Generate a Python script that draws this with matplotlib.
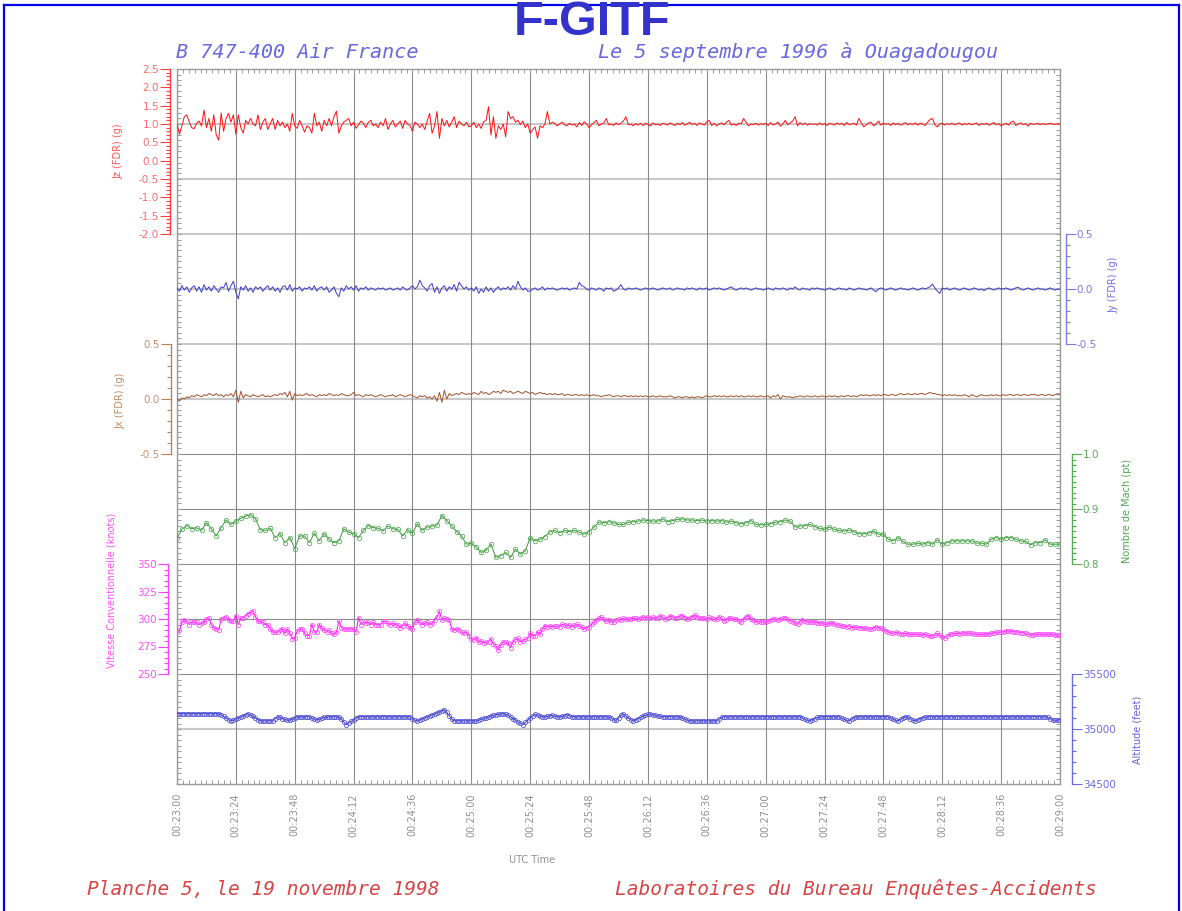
import numpy as np
import matplotlib
matplotlib.use('Agg')
import matplotlib.pyplot as plt
from matplotlib.ticker import MultipleLocator, FuncFormatter
from matplotlib.lines import Line2D

plt.rcParams['axes.unicode_minus'] = False
plt.rcParams['font.family'] = ['DejaVu Sans']

# ---------------- data ----------------
time_labels = ['00:23:00', '00:23:24', '00:23:48', '00:24:12', '00:24:36', '00:25:00',
               '00:25:24', '00:25:48', '00:26:12', '00:26:36', '00:27:00', '00:27:24',
               '00:27:48', '00:28:12', '00:28:36', '00:29:00']
tick_seconds = [0, 24, 48, 72, 96, 120, 144, 168, 192, 216, 240, 264, 288, 312, 336, 360]

# 1-second samples, t = 0 .. 360 s from 00:23:00
jz_g = [
    1.00, 0.72, 0.95, 1.20, 1.25, 1.05, 0.90, 0.87, 1.02, 1.08,
    0.95, 1.38, 0.90, 1.15, 0.80, 1.25, 0.70, 0.56, 1.30, 0.80,
    1.15, 1.29, 1.05, 1.25, 0.72, 1.25, 0.90, 0.75, 1.10, 1.00,
    1.15, 1.00, 0.95, 1.25, 0.85, 1.05, 1.15, 0.85, 1.00, 1.15,
    0.85, 1.10, 0.95, 1.05, 0.90, 1.00, 0.80, 1.29, 0.95, 0.88,
    1.10, 0.95, 0.78, 0.95, 0.90, 0.75, 1.29, 0.95, 1.05, 0.80,
    1.10, 0.95, 1.15, 0.95, 1.20, 1.35, 0.75, 0.95, 1.05, 1.10,
    1.15, 0.95, 1.05, 0.88, 0.98, 1.08, 1.02, 0.90, 1.05, 1.10,
    0.95, 1.00, 0.90, 1.05, 0.95, 1.15, 0.85, 1.00, 1.10, 0.92,
    1.00, 1.08, 0.88, 1.10, 1.00, 0.95, 0.80, 1.05, 1.00, 0.90,
    1.00, 0.85, 1.08, 1.29, 0.75, 0.95, 1.34, 0.61, 1.15, 0.95,
    1.10, 0.92, 1.05, 1.20, 0.90, 1.08, 1.00, 0.95, 1.05, 0.92,
    0.95, 1.05, 0.90, 1.00, 0.88, 1.06, 1.10, 1.47, 0.70, 1.20,
    0.61, 0.95, 0.85, 1.00, 0.65, 1.34, 1.15, 1.20, 1.05, 1.10,
    0.98, 1.08, 0.90, 1.00, 0.75, 0.85, 0.92, 0.61, 0.95, 0.90,
    1.00, 1.34, 1.00, 1.05, 1.02, 0.95, 1.00, 1.05, 0.98, 0.95,
    1.02, 0.97, 1.00, 0.92, 1.04, 0.96, 1.06, 1.00, 0.90, 0.98,
    1.04, 1.10, 0.95, 1.00, 1.02, 1.15, 0.98, 1.00, 0.96, 1.03,
    0.98, 1.02, 1.08, 1.20, 0.98, 1.00, 0.95, 1.01, 0.97, 1.02,
    0.96, 1.02, 0.99, 0.95, 1.03, 0.98, 1.00, 0.96, 1.02, 1.00,
    0.97, 1.03, 0.99, 0.96, 1.02, 0.98, 1.04, 0.97, 1.00, 1.05,
    0.98, 1.02, 0.96, 1.03, 1.00, 0.97, 1.06, 1.10, 0.96, 1.02,
    0.95, 1.00, 1.03, 0.98, 1.05, 1.10, 0.97, 1.00, 0.96, 1.02,
    1.00, 1.15, 1.05, 0.95, 1.00, 0.98, 1.02, 0.97, 1.01, 0.99,
    1.02, 0.96, 1.04, 0.97, 1.00, 1.05, 0.94, 1.00, 1.10, 0.98,
    1.03, 1.08, 1.20, 0.95, 1.04, 0.98, 1.02, 0.97, 1.01, 0.99,
    1.00, 0.97, 1.03, 0.98, 1.01, 0.96, 1.02, 1.00, 0.97, 1.03,
    0.99, 1.02, 0.96, 1.04, 0.98, 1.00, 1.02, 0.97, 1.15, 1.03,
    0.92, 0.98, 1.03, 1.05, 0.95, 1.00, 1.08, 0.97, 1.02, 0.99,
    1.01, 0.96, 1.03, 0.98, 1.02, 0.97, 1.00, 1.04, 0.98, 1.01,
    0.99, 1.03, 0.97, 1.02, 1.00, 0.96, 1.05, 1.12, 1.15, 0.98,
    0.92, 1.00, 1.02, 0.97, 1.01, 0.99, 1.02, 0.98, 1.00, 1.03,
    0.97, 1.01, 0.99, 1.02, 0.98, 1.00, 1.03, 0.96, 1.01, 0.99,
    1.02, 0.97, 1.00, 1.04, 0.98, 1.01, 0.95, 0.99, 1.02, 0.97,
    1.05, 1.08, 0.96, 1.00, 1.03, 0.98, 1.01, 0.94, 1.02, 0.99,
    1.00, 1.02, 0.98, 1.01, 0.99, 1.00, 1.02, 1.00, 0.99, 1.01,
    1.00]

jy_g = [
    0.01, -0.02, 0.03, -0.01, 0.02, -0.03, 0.01, 0.03, -0.02, 0.02,
    -0.03, 0.04, -0.01, 0.02, -0.02, 0.03, 0.00, -0.03, 0.02, 0.01,
    0.06, -0.02, 0.03, 0.07, -0.03, -0.09, 0.02, -0.01, 0.03, -0.02,
    0.01, -0.03, 0.02, 0.00, 0.02, -0.02, 0.01, 0.03, -0.01, 0.02,
    -0.02, 0.01, -0.03, 0.02, 0.03, -0.01, 0.04, -0.02, 0.01, 0.00,
    0.02, -0.02, 0.01, 0.00, 0.02, -0.01, 0.03, -0.02, 0.01, 0.02,
    -0.01, 0.02, -0.03, -0.01, 0.02, -0.04, -0.07, 0.01, -0.02, 0.03,
    0.00, 0.02, -0.01, 0.03, -0.02, 0.01, 0.00, 0.02, -0.01, 0.01,
    0.00, -0.01, 0.01, 0.00, 0.01, -0.01, 0.00, 0.01, -0.01, 0.00,
    0.01, -0.01, 0.02, 0.00, -0.01, 0.01, 0.03, 0.00, 0.02, 0.08,
    0.03, 0.01, -0.02, 0.03, 0.05, -0.03, 0.02, -0.04, 0.01, 0.03,
    -0.02, 0.02, 0.00, 0.04, -0.02, 0.06, 0.03, 0.00, 0.02, -0.01,
    0.01, -0.02, 0.02, -0.04, 0.00, -0.03, 0.02, -0.02, 0.01, -0.03,
    0.00, 0.02, -0.01, 0.01, 0.00, 0.02, -0.01, 0.03, 0.00, 0.07,
    0.02, -0.01, 0.01, -0.02, -0.02, 0.00, 0.01, -0.01, 0.00, 0.02,
    -0.01, 0.01, 0.00, 0.01, 0.00, -0.01, 0.00, 0.01, 0.00, 0.01,
    -0.01, 0.00, 0.01, 0.00, 0.06, 0.03, 0.02, 0.00, -0.01, 0.01,
    0.00, -0.01, 0.01, 0.00, -0.02, 0.01, 0.00, 0.01, -0.02, -0.01,
    0.01, 0.04, 0.00, -0.01, 0.01, 0.00, 0.00, 0.01, 0.00, -0.01,
    0.00, 0.01, 0.00, 0.00, 0.01, 0.00, -0.01, 0.00, 0.01, 0.00,
    0.00, 0.01, -0.01, 0.00, 0.01, 0.00, 0.00, -0.01, 0.01, 0.00,
    0.01, 0.00, -0.01, 0.01, 0.00, 0.00, 0.01, -0.01, 0.00, 0.01,
    0.00, 0.01, 0.00, -0.01, 0.00, 0.01, 0.02, 0.00, -0.01, 0.00,
    0.01, 0.00, 0.01, 0.00, -0.01, 0.00, 0.01, 0.00, 0.00, -0.01,
    0.00, 0.01, 0.00, -0.01, 0.01, 0.00, 0.00, 0.01, 0.00, -0.01,
    0.01, 0.00, 0.02, 0.00, -0.01, 0.01, 0.00, 0.00, -0.01, 0.01,
    0.00, 0.01, 0.00, 0.00, -0.01, 0.00, 0.01, 0.00, -0.01, 0.00,
    0.01, 0.00, 0.00, -0.01, 0.01, 0.00, -0.01, 0.00, 0.01, 0.00,
    0.00, -0.01, 0.00, 0.01, -0.01, -0.025, 0.00, 0.01, 0.00, -0.01,
    0.00, 0.01, 0.00, -0.01, 0.00, 0.01, 0.00, 0.00, -0.01, 0.00,
    0.01, 0.00, -0.01, 0.00, 0.01, 0.00, 0.01, 0.02, 0.045, 0.01,
    -0.02, -0.04, 0.01, 0.00, 0.01, -0.01, 0.00, 0.01, 0.00, -0.01,
    0.00, 0.01, 0.00, -0.01, 0.00, 0.01, 0.00, -0.01, 0.00, -0.015,
    0.00, 0.01, 0.00, -0.01, 0.00, 0.01, 0.00, 0.00, 0.01, 0.00,
    -0.01, 0.00, 0.01, 0.015, 0.00, -0.01, 0.00, 0.01, 0.00, -0.01,
    0.00, 0.01, 0.00, 0.00, -0.01, 0.00, 0.01, 0.00, -0.01, 0.00,
    0.00]

jx_g = [
    0.00, -0.02, 0.01, 0.00, 0.02, 0.01, 0.03, 0.02, 0.04, 0.03,
    0.02, 0.04, 0.03, 0.05, 0.04, 0.03, 0.05, 0.03, 0.04, 0.02,
    0.04, 0.03, 0.05, 0.02, 0.08, -0.03, 0.07, 0.01, 0.04, 0.03,
    0.02, 0.04, 0.03, 0.02, 0.03, 0.04, 0.02, 0.03, 0.02, 0.03,
    0.04, 0.03, 0.05, 0.04, 0.06, 0.02, 0.07, -0.01, 0.05, 0.03,
    0.04, 0.03, 0.04, 0.05, 0.03, 0.04, 0.03, 0.02, 0.04, 0.03,
    0.04, 0.03, 0.05, 0.04, 0.03, 0.04, 0.03, 0.05, 0.04, 0.03,
    0.03, 0.04, 0.06, 0.03, 0.04, 0.03, 0.02, 0.04, 0.03, 0.04,
    0.03, 0.02, 0.03, 0.04, 0.03, 0.02, 0.03, 0.03, 0.04, 0.02,
    0.03, 0.04, 0.03, 0.02, 0.03, 0.04, 0.03, 0.02, 0.01, 0.03,
    0.02, 0.03, 0.01, 0.02, 0.00, 0.03, -0.02, 0.06, -0.03, 0.08,
    0.00, 0.05, 0.03, 0.04, 0.05, 0.04, 0.06, 0.05, 0.04, 0.05,
    0.04, 0.06, 0.05, 0.04, 0.07, 0.05, 0.06, 0.04, 0.05, 0.07,
    0.06, 0.07, 0.05, 0.08, 0.07, 0.06, 0.07, 0.05, 0.06, 0.07,
    0.06, 0.05, 0.07, 0.06, 0.05, 0.06, 0.04, 0.05, 0.06, 0.05,
    0.05, 0.04, 0.05, 0.04, 0.05, 0.04, 0.04, 0.05, 0.03, 0.04,
    0.04, 0.03, 0.04, 0.04, 0.03, 0.04, 0.03, 0.04, 0.03, 0.03,
    0.04, 0.03, 0.03, 0.02, 0.03, 0.03, 0.04, 0.03, 0.02, 0.03,
    0.03, 0.02, 0.03, 0.03, 0.02, 0.03, 0.02, 0.03, 0.02, 0.03,
    0.02, 0.03, 0.02, 0.02, 0.03, 0.02, 0.02, 0.03, 0.02, 0.02,
    0.02, 0.03, 0.02, 0.01, 0.02, 0.02, 0.01, 0.02, 0.02, 0.01,
    0.02, 0.01, 0.02, 0.02, 0.01, 0.02, 0.03, 0.02, 0.02, 0.03,
    0.02, 0.03, 0.02, 0.03, 0.02, 0.02, 0.03, 0.02, 0.03, 0.02,
    0.03, 0.02, 0.02, 0.03, 0.02, 0.03, 0.02, 0.02, 0.03, 0.02,
    0.02, 0.03, 0.01, 0.03, 0.02, 0.04, 0.00, 0.03, 0.02, 0.02,
    0.02, 0.01, 0.02, 0.02, 0.03, 0.02, 0.02, 0.03, 0.02, 0.02,
    0.03, 0.02, 0.02, 0.03, 0.02, 0.02, 0.03, 0.02, 0.03, 0.02,
    0.02, 0.03, 0.02, 0.03, 0.03, 0.02, 0.03, 0.02, 0.03, 0.04,
    0.03, 0.04, 0.03, 0.03, 0.04, 0.03, 0.04, 0.03, 0.04, 0.04,
    0.03, 0.04, 0.04, 0.03, 0.04, 0.05, 0.04, 0.04, 0.05, 0.04,
    0.04, 0.05, 0.04, 0.05, 0.05, 0.04, 0.05, 0.06, 0.05, 0.05,
    0.04, 0.04, 0.03, 0.04, 0.03, 0.04, 0.03, 0.04, 0.03, 0.03,
    0.03, 0.04, 0.03, 0.02, 0.04, 0.03, 0.02, 0.03, 0.04, 0.03,
    0.03, 0.03, 0.04, 0.03, 0.04, 0.03, 0.03, 0.04, 0.03, 0.04,
    0.04, 0.03, 0.04, 0.04, 0.03, 0.04, 0.04, 0.03, 0.04, 0.04,
    0.04, 0.03, 0.04, 0.04, 0.03, 0.04, 0.04, 0.03, 0.04, 0.04,
    0.04]

# 2-second samples, t = 0 .. 360 s
mach = [
    0.847, 0.863, 0.870, 0.864, 0.866, 0.861, 0.875, 0.864, 0.851, 0.866,
    0.880, 0.872, 0.878, 0.883, 0.887, 0.890, 0.882, 0.862, 0.861, 0.865,
    0.848, 0.855, 0.839, 0.848, 0.828, 0.851, 0.851, 0.839, 0.856, 0.842,
    0.855, 0.845, 0.839, 0.842, 0.864, 0.858, 0.855, 0.848, 0.861, 0.870,
    0.866, 0.865, 0.860, 0.869, 0.864, 0.863, 0.851, 0.862, 0.856, 0.873,
    0.861, 0.867, 0.869, 0.871, 0.888, 0.879, 0.869, 0.859, 0.851, 0.836,
    0.838, 0.831,
    0.821, 0.825, 0.836, 0.812, 0.815, 0.821, 0.812, 0.827, 0.818, 0.824,
    0.848, 0.842, 0.845, 0.850, 0.858, 0.861, 0.857, 0.861, 0.859, 0.861,
    0.858, 0.854, 0.859, 0.867, 0.876, 0.875, 0.877, 0.875, 0.872, 0.872,
    0.876, 0.877, 0.878, 0.880, 0.879, 0.878, 0.878, 0.882, 0.877, 0.879,
    0.881, 0.882, 0.880, 0.880, 0.879, 0.880, 0.878, 0.879, 0.878, 0.879,
    0.876, 0.878, 0.875, 0.873, 0.875, 0.879, 0.872, 0.871, 0.872,
    0.873, 0.876, 0.877, 0.880, 0.878, 0.867, 0.869, 0.870, 0.872, 0.868,
    0.865, 0.863, 0.867, 0.863, 0.861, 0.860, 0.862, 0.859, 0.855, 0.855,
    0.856, 0.860, 0.854, 0.854, 0.845, 0.842, 0.848, 0.841, 0.836, 0.836,
    0.838, 0.836, 0.839, 0.836, 0.844, 0.836, 0.839, 0.842, 0.842, 0.842,
    0.842, 0.842, 0.838, 0.838, 0.836, 0.845, 0.848, 0.845, 0.848, 0.848,
    0.845, 0.842, 0.841, 0.835, 0.839, 0.839, 0.844, 0.836, 0.836, 0.836]

# 1-second samples
speed_kt = [
    288, 290, 297, 299, 298, 295, 297, 297, 297, 295,
    296, 297, 300, 301, 295, 292, 291, 290, 300, 301,
    302, 299, 298, 298, 303, 295, 301, 301, 303, 305,
    306, 307, 302, 298, 298, 297, 295, 295, 291, 288,
    288, 288, 290, 291, 287, 291, 287, 282, 283, 289,
    291, 291, 287, 285, 285, 295, 288, 288, 295, 292,
    290, 288, 290, 287, 286, 288, 298, 292, 291, 291,
    291, 291, 291, 288, 301, 295, 297, 296, 297, 295,
    297, 295, 295, 295, 298, 298, 296, 295, 296, 295,
    295, 292, 294, 296, 294, 292, 291, 297, 299, 297,
    295, 296, 297, 295, 296, 299, 302, 307, 299, 301,
    300, 299, 291, 290, 291, 290, 288, 287, 288, 285,
    282, 281,
    283.0, 278.8, 280.0, 278.5, 278.8, 279.4, 281.8, 277.0, 275.7, 271.8,
    276.3, 279.4, 278.8, 277.9, 273.9, 279.4, 281.8, 282.4, 279.4, 280.3,
    281.5, 282.4, 287.0, 284.5, 284.8, 288.5, 286.0, 290.9, 293.9, 293.0,
    293.9, 293.0, 293.6, 293.6, 293.0, 295.1, 294.5, 293.6, 294.5, 293.0,
    294.5, 295.1, 293.6, 293.0, 290.9, 292.1, 293.0, 295.1, 297.0, 299.1,
    300.6, 301.5, 300.0, 298.2, 299.1, 297.6, 297.6, 299.1, 299.7, 299.1,
    300.6, 299.7, 299.7, 300.0, 300.6, 300.6, 300.0, 300.6, 301.5, 301.2,
    301.5, 300.6, 301.5, 300.6, 301.2, 303.0, 301.5, 299.7, 301.2, 303.0,
    301.5, 300.6, 301.2, 302.7, 303.0, 301.2, 300.0, 300.6, 302.1, 303.6,
    302.1, 300.6, 301.2, 300.6, 300.0, 301.5, 300.6, 299.7, 300.0, 302.1,
    300.6, 298.5, 299.1, 301.2, 300.6, 299.7, 300.0, 298.2, 297.0, 299.7,
    302.1, 303.0, 299.7, 299.1, 297.6, 298.2, 297.6, 297.0, 297.0, 298.2,
    299.1, 299.7, 299.7, 299.1, 300.0, 300.6, 301.2, 300.0, 298.5, 297.6,
    296.0, 295.1, 297.6, 299.1, 298.5, 297.6, 297.6, 297.0, 297.6, 296.6,
    296.0, 296.6, 295.4, 295.1, 296.0, 296.6, 295.4, 294.5, 294.5, 293.9,
    293.6, 293.0, 293.9, 292.1, 292.7, 292.4, 292.1, 292.1, 291.5, 291.5,
    290.9, 290.9, 292.1, 292.4, 292.1, 291.5, 290.9, 289.4, 287.9, 287.6,
    287.0, 287.9, 287.6, 286.3, 286.3, 287.0, 286.6, 286.0, 286.3, 286.0,
    286.0, 286.0, 285.4, 286.0, 285.4, 284.5, 284.8, 285.4, 287.0, 285.4,
    283.9, 283.0, 284.5, 286.0, 286.3, 287.0, 287.0, 286.6, 287.0, 287.6,
    287.3, 287.0, 287.0, 286.3, 286.0, 286.0, 286.0, 286.0, 286.3, 286.6,
    287.0, 287.6, 287.9, 287.9, 288.2, 288.5, 289.1, 289.1, 288.8, 288.5,
    288.5, 288.2, 287.6, 287.6, 287.0, 286.3, 285.4, 285.4, 286.0, 286.0,
    286.3, 286.0, 286.0, 286.3, 286.3, 286.0, 285.4, 285.4, 285.7]

altitude_ft = [
    35140, 35140, 35140, 35140, 35140, 35140, 35140, 35140, 35140, 35140,
    35140, 35140, 35140, 35140, 35140, 35140, 35140, 35140, 35130, 35115,
    35100, 35085, 35075, 35080, 35090, 35100, 35110, 35120, 35130, 35138,
    35130, 35115, 35100, 35085, 35075, 35075, 35075, 35075, 35075, 35075,
    35095, 35112, 35105, 35095, 35088, 35080, 35078, 35090, 35102, 35112,
    35112, 35112, 35112, 35112, 35112, 35100, 35090, 35082, 35090, 35098,
    35105, 35110, 35112, 35112, 35112, 35112, 35112, 35090, 35065, 35040,
    35055, 35070, 35085, 35100, 35112, 35112, 35112, 35112, 35112, 35112,
    35112, 35112, 35112, 35112, 35112, 35112, 35112, 35112, 35112, 35112,
    35112, 35112, 35112, 35112, 35112, 35112, 35095, 35080, 35075, 35083,
    35092, 35101, 35110, 35119, 35128, 35137, 35146, 35155, 35165, 35175,
    35150, 35120, 35090, 35075, 35075, 35075, 35075, 35075, 35075, 35075,
    35075, 35075, 35075, 35082, 35089, 35096, 35103, 35110, 35117, 35124,
    35130, 35135, 35139, 35139, 35135, 35125, 35110, 35095, 35080, 35065,
    35050, 35039, 35060, 35080, 35100, 35120, 35136, 35125, 35118, 35112,
    35110, 35115, 35120, 35125, 35118, 35112, 35110, 35115, 35122, 35128,
    35120, 35112, 35112, 35112, 35112, 35112, 35112, 35112, 35112, 35112,
    35112, 35112, 35112, 35112, 35112, 35112, 35112, 35100, 35085, 35078,
    35100, 35125, 35136, 35120, 35100, 35085, 35075, 35085, 35095, 35105,
    35115, 35125, 35132, 35136, 35130, 35125, 35120, 35115, 35112, 35112,
    35112, 35112, 35112, 35112, 35112, 35112, 35100, 35090, 35080, 35075,
    35075, 35075, 35075, 35075, 35075, 35075, 35075, 35075, 35075, 35075,
    35075, 35090, 35105, 35112, 35112, 35112, 35112, 35112, 35112, 35112,
    35112, 35112, 35112, 35112, 35112, 35112, 35112, 35112, 35112, 35112,
    35112, 35112, 35112, 35112, 35112, 35112, 35112, 35112, 35112, 35112,
    35112, 35112, 35112, 35112, 35112, 35100, 35088, 35078, 35075, 35085,
    35095, 35105, 35112, 35112, 35112, 35112, 35112, 35112, 35112, 35112,
    35112, 35100, 35088, 35078, 35075, 35090, 35102, 35112, 35112, 35112,
    35112, 35112, 35112, 35112, 35112, 35112, 35112, 35112, 35112, 35112,
    35112, 35100, 35088, 35078, 35075, 35088, 35100, 35110, 35112, 35095,
    35080, 35075, 35085, 35095, 35102, 35108, 35112, 35112, 35112, 35112,
    35112, 35112, 35112, 35112, 35112, 35112, 35112, 35112, 35112, 35112,
    35112, 35112, 35112, 35112, 35112, 35112, 35112, 35112, 35112, 35112,
    35112, 35112, 35112, 35112, 35112, 35112, 35112, 35112, 35112, 35112,
    35112, 35112, 35112, 35112, 35112, 35112, 35112, 35112, 35112, 35112,
    35112, 35112, 35112, 35112, 35112,
    35105, 35095, 35085, 35078, 35080, 35085]

_lens = [len(jz_g), len(jy_g), len(jx_g), len(mach), len(speed_kt), len(altitude_ft)]
assert _lens == [361, 361, 361, 181, 361, 361], _lens

t_1s = np.arange(len(jz_g))
t_2s = np.arange(len(mach)) * 2

# ---------------- layout helpers ----------------
W_PX, H_PX = 1182, 911
fig = plt.figure(figsize=(W_PX / 100, H_PX / 100), dpi=100)
fig.patch.set_facecolor('white')


def fx(x):
    return x / W_PX


def fy(y):
    return 1 - y / H_PX


L, R, T, B = 177, 1060, 69, 784
PX = 0.72  # points per pixel

# main frame axes
ax = fig.add_axes([fx(L), fy(B), fx(R) - fx(L), fy(T) - fy(B)])
ax.set_xlim(0, 360)
ax.set_ylim(0, 13)
ax.set_facecolor('white')
for s in ax.spines.values():
    s.set_color('#9a9a9a')
    s.set_linewidth(1.0)
ax.set_xticks(tick_seconds)
ax.set_xticklabels(time_labels, rotation=90, fontsize=7, color='#909090', va='top')
ax.xaxis.set_minor_locator(MultipleLocator(2.4))
ax.set_yticks(range(14))
ax.set_yticklabels([])
ax.yaxis.set_minor_locator(MultipleLocator(0.1))
ax.tick_params(axis='both', which='both', direction='in', top=True, right=True,
               color='#9a9a9a', width=0.7)
ax.tick_params(axis='both', which='minor', length=3)
ax.tick_params(axis='y', which='major', length=3)
ax.tick_params(axis='x', which='major', length=3, pad=6.5)
ax.grid(axis='x', which='major', color='#8c8c8c', linewidth=0.8)
for k in [1, 7, 8, 9, 10, 11, 12]:
    ax.axhline(k, color='#c8c8c8', linewidth=1.5, zorder=0.5)
for k in [2, 3, 4, 5, 6]:
    ax.axhline(k, color='#8c8c8c', linewidth=0.8, zorder=0.5)


def make_sub(top, bot, side, out_px, ylim, major, minor, spine_col, lab_col, fmt):
    a = fig.add_axes([fx(L), fy(bot), fx(R) - fx(L), fy(top) - fy(bot)])
    a.set_xlim(0, 360)
    a.set_ylim(*ylim)
    a.patch.set_visible(False)
    for s in a.spines.values():
        s.set_visible(False)
    sp = a.spines[side]
    sp.set_visible(True)
    sp.set_position(('outward', out_px * PX))
    sp.set_color(spine_col)
    sp.set_linewidth(1.0)
    a.xaxis.set_visible(False)
    if side == 'right':
        a.yaxis.tick_right()
    else:
        a.yaxis.tick_left()
    a.yaxis.set_major_locator(MultipleLocator(major))
    a.yaxis.set_minor_locator(MultipleLocator(minor))
    a.yaxis.set_major_formatter(FuncFormatter(lambda v, p: fmt % (0 if abs(v) < 1e-9 else v)))
    a.tick_params(axis='y', which='major', direction='out', length=7, width=0.8,
                  color=spine_col, labelcolor=lab_col, labelsize=7.5, pad=0.8)
    a.tick_params(axis='y', which='minor', direction='out', length=3, width=0.8,
                  color=spine_col)
    return a


# Jz
a_jz = make_sub(69, 234, 'left', 7, (-2.0, 2.5), 0.5, 0.1, '#ff3c3c', '#ff6a6a', '%.1f')
a_jz.plot(t_1s, jz_g, color='#ff1010', linewidth=0.7)
# Jy
a_jy = make_sub(234, 344, 'right', 6, (-0.5, 0.5), 0.5, 0.1, '#7a7ae8', '#7a7ae8', '%.1f')
a_jy.plot(t_1s, jy_g, color='#3c3ccc', linewidth=0.7)
# Jx
a_jx = make_sub(344, 454, 'left', 6.5, (-0.5, 0.5), 0.5, 0.1, '#c08050', '#c89070', '%.1f')
a_jx.plot(t_1s, jx_g, color='#a0522d', linewidth=0.7)
# Mach
a_m = make_sub(454, 564, 'right', 12, (0.8, 1.0), 0.1, 0.01, '#5aaa5a', '#5aaa5a', '%.1f')
a_m.plot(t_2s, mach, color='#3c963c', linewidth=0.7, marker='o', markersize=3.2,
         markerfacecolor='none', markeredgecolor='#5cae5c', markeredgewidth=0.6)
# Speed
a_s = make_sub(564, 674, 'left', 9, (250, 350), 25, 5, '#ff40ff', '#ff50ff', '%d')
a_s.plot(t_1s, speed_kt, color='#ff00ff', linewidth=0.7, marker='o', markersize=3.0,
         markerfacecolor='none', markeredgecolor='#ff55ff', markeredgewidth=0.6)
# Altitude
a_a = make_sub(674, 784, 'right', 12, (34500, 35500), 500, 100, '#6a6ae0', '#6a6ae0', '%d')
a_a.plot(t_1s, altitude_ft, color='#3030c0', linewidth=0.7, marker='o', markersize=3.0,
         markerfacecolor='none', markeredgecolor='#5a5ad8', markeredgewidth=0.6)

# axis labels
lab_kw = dict(rotation=90, fontsize=7, ha='center', va='center')
fig.text(fx(118), fy(151), 'Jz (FDR) (g)', color='#ff5a5a', **lab_kw)
fig.text(fx(1113), fy(285), 'Jy (FDR) (g)', color='#7070e0', **lab_kw)
fig.text(fx(120), fy(401), 'Jx (FDR) (g)', color='#c08a60', **lab_kw)
fig.text(fx(1127), fy(511), 'Nombre de Mach (pt)', color='#50a850', **lab_kw)
fig.text(fx(112), fy(590), 'Vitesse Conventionnelle (knots)', color='#ff50ff', **lab_kw)
fig.text(fx(1138), fy(730), 'Altitude (feet)', color='#6060dd', **lab_kw)
fig.text(fx(532), fy(860), 'UTC Time', color='#909090', fontsize=7, ha='center', va='center')

# titles
fig.text(fx(592), fy(35), 'F-GITF', fontsize=35, fontweight='bold', color='#3333cc',
         family='Liberation Sans', ha='center', va='baseline')
mono = dict(family='DejaVu Sans Mono', style='oblique', fontsize=14.5, va='baseline')
fig.text(fx(176), fy(57.5), 'B 747-400 Air France', color='#6868e0', ha='left', **mono)
fig.text(fx(998), fy(57.5), 'Le 5 septembre 1996 à Ouagadougou', color='#6868e0', ha='right', **mono)
foot = dict(family='DejaVu Sans Mono', style='oblique', fontsize=14, va='baseline', color='#d84444')
fig.text(fx(87), fy(895), 'Planche 5, le 19 novembre 1998', ha='left', **foot)
fig.text(fx(1097), fy(895), 'Laboratoires du Bureau Enquêtes-Accidents', ha='right', **foot)

# blue page border (left, top, right)
for xs, ys in [((3.5, 3.5), (4.5, 915)), ((3.5, 1179), (4.5, 4.5)), ((1179, 1179), (4.5, 915))]:
    fig.add_artist(Line2D([fx(xs[0]), fx(xs[1])], [fy(ys[0]), fy(ys[1])],
                          transform=fig.transFigure, color='#0000ee', linewidth=1.6))

fig.savefig('out.png', dpi=100, facecolor='white')
